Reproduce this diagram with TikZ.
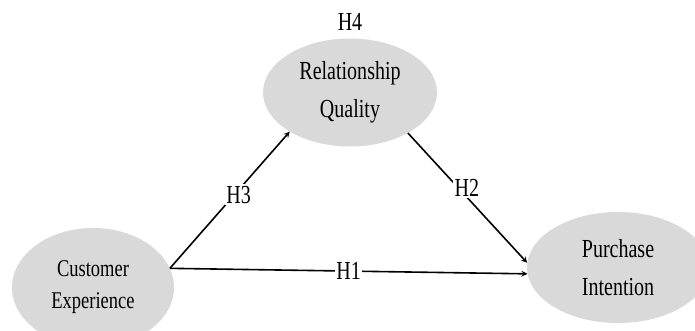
\documentclass[tikz,border=0pt]{standalone}
\usepackage{fontspec}
\setmainfont{Liberation Serif}[FakeStretch=0.77]
\usepackage{tikz}
\usetikzlibrary{shapes.geometric, arrows}
\usetikzlibrary{positioning}
\tikzstyle{construct} = [ellipse, fill=gray!30, text centered, align=center, inner sep=0pt, font=\fontsize{26}{38}\selectfont]
\tikzstyle{hyp} = [fill=white, inner sep=1.5pt, font=\fontsize{26}{28}\selectfont]
\tikzstyle{arrow} = [line width=1.6pt,->,>=stealth]

\begin{document}
\begin{tikzpicture}[x=1pt, y=1pt, node distance=257pt]
        \useasboundingbox (0,0) rectangle (695,330);
        \node(cust) [construct, minimum width=162pt, minimum height=119pt, font=\fontsize{24}{32}\selectfont] at (93,42.5) {Customer\\Experience};
        \node(rel) [construct, minimum width=174pt, minimum height=108pt, right of=cust, yshift=195pt] {Relationship\\Quality};
        \node(pur) [construct, minimum width=182pt, minimum height=111pt, right of=rel, xshift=11pt, yshift=-175pt] {Purchase\\Intention};
        \node(h4) [hyp, above=6pt of rel] {H4};

        \draw[arrow] (cust.14) -- node[hyp]{H1} (pur.184);
        \draw[arrow] (cust.14) -- node[hyp, pos=0.54, xshift=4pt]{H3} (rel.213);
        \draw[arrow] (rel.325) -- node[hyp, pos=0.42, xshift=9pt]{H2} (pur.177);
\end{tikzpicture}
\end{document}
